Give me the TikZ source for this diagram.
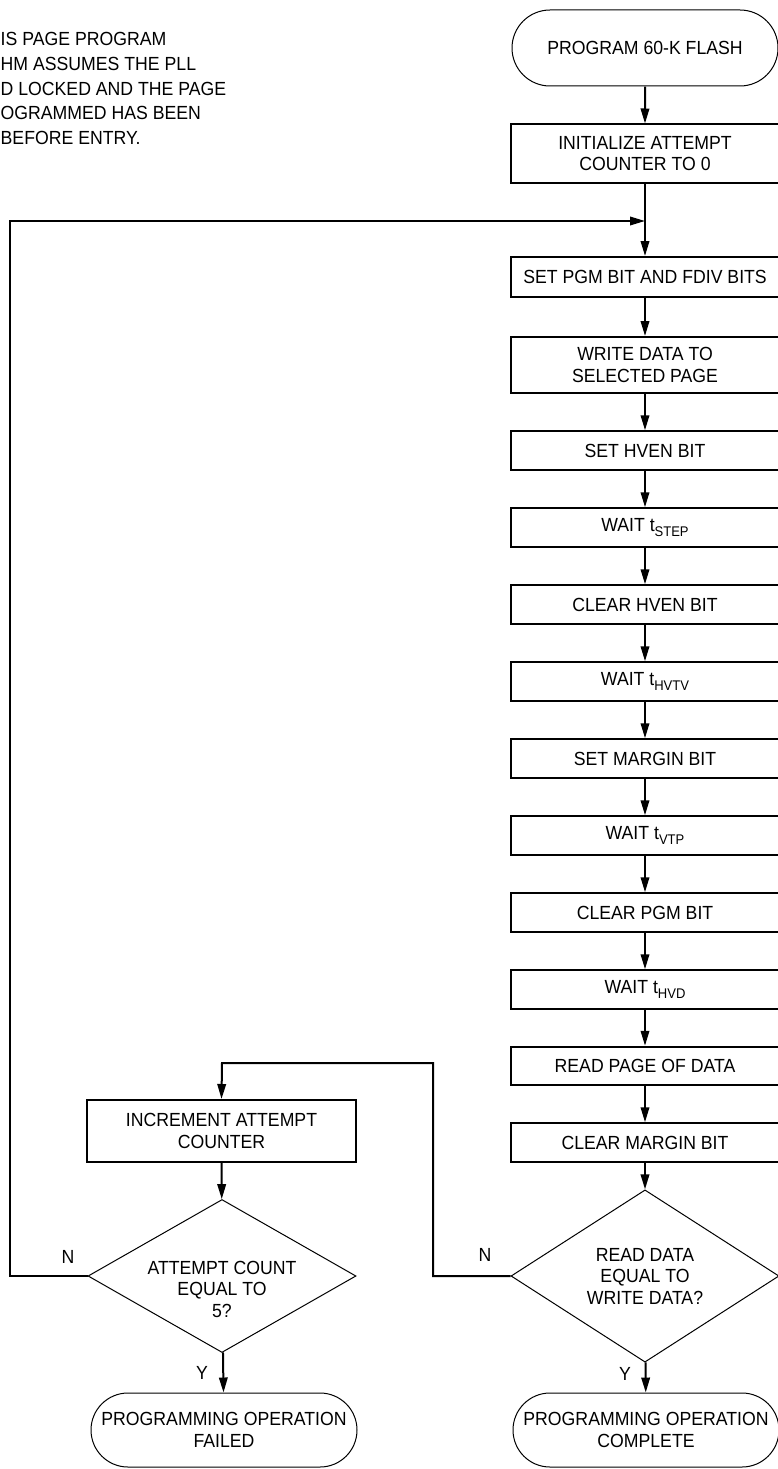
\documentclass[tikz,border=0pt]{standalone}
\usepackage{fontspec}
\setmainfont{Liberation Sans}[FakeStretch=0.93]
\usetikzlibrary{positioning,shapes.geometric,shapes.misc,arrows.meta}

\newcommand{\tsub}[1]{t\raisebox{-0.45ex}{\fontsize{14}{14}\selectfont #1}}

\begin{document}
\begin{tikzpicture}[
        x=1pt, y=-1pt,
        font=\fontsize{19}{21.5}\selectfont,
        stepbox/.style={rectangle, draw, line width=2pt, minimum width=268pt, minimum height=38.5pt, inner sep=2pt, align=center},
        tallbox/.style={stepbox, minimum height=58pt},
        terminal/.style={rounded rectangle, draw, line width=1pt, minimum width=270pt, minimum height=76pt, inner sep=2pt, align=center},
        decision/.style={diamond, draw, line width=1pt, minimum width=268pt, minimum height=153pt, inner sep=0pt, align=center},
        flow/.style={line width=2pt, -{Triangle[length=15pt,width=8.5pt]}},
        yn/.style={font=\fontsize{19}{19}\selectfont}
    ]
        \clip (0,0) rectangle (778,1469);

        % Note at top left
        \node[anchor=north west, inner sep=0pt, align=left, font=\fontsize{19}{24.6}\selectfont] (note) at (0.5,32.5)
            {IS PAGE PROGRAM\\HM ASSUMES THE PLL\\D LOCKED AND THE PAGE\\OGRAMMED HAS BEEN\\BEFORE ENTRY.};

        % Main column
        \node[terminal] (start) at (645,48) {PROGRAM 60-K FLASH};
        \node[tallbox] (init) at (645,153.5) {INITIALIZE ATTEMPT\\COUNTER TO 0};
        \coordinate (merge) at (645,221);
        \node[stepbox, minimum height=40pt] (pgm) at (645,277) {SET PGM BIT AND FDIV BITS};
        \node[stepbox, minimum height=56pt] (write) at (645,365) {WRITE DATA TO\\SELECTED PAGE};
        \node[stepbox] (hven) at (645,450.5) {SET HVEN BIT};
        \node[stepbox] (tstep) at (645,527.5) {WAIT \tsub{STEP}};
        \node[stepbox] (clrhven) at (645,604.5) {CLEAR HVEN BIT};
        \node[stepbox] (thvtv) at (645,681.5) {WAIT \tsub{HVTV}};
        \node[stepbox] (margin) at (645,758.5) {SET MARGIN BIT};
        \node[stepbox] (tvtp) at (645,835.5) {WAIT \tsub{VTP}};
        \node[stepbox] (clrpgm) at (645,912.5) {CLEAR PGM BIT};
        \node[stepbox] (thvd) at (645,989.5) {WAIT \tsub{HVD}};
        \node[stepbox] (read) at (645,1066) {READ PAGE OF DATA};
        \node[stepbox] (clrmargin) at (645,1142.5) {CLEAR MARGIN BIT};
        \node[decision] (compare) at (645,1276) {READ DATA\\EQUAL TO\\WRITE DATA?};
        \node[terminal, minimum height=74pt] (done) at (646,1430) {PROGRAMMING OPERATION\\COMPLETE};

        % Retry column
        \node[stepbox, minimum width=269pt, minimum height=62pt] (incr) at (221.5,1131) {INCREMENT ATTEMPT\\COUNTER};
        \node[decision, label={[name=counttext, align=center, yshift=-13pt]center:ATTEMPT COUNT\\EQUAL TO\\5?}] (count) at (222,1276) {};
        \node[terminal, minimum height=74pt] (failed) at (224,1430) {PROGRAMMING OPERATION\\FAILED};

        % Corner points of the loops
        \coordinate (nleft) at (10,1276);
        \coordinate (ntop) at (10,221);
        \coordinate (rright) at (433,1276);
        \coordinate (rtop) at (433,1063);
        \coordinate (rturn) at (222,1063);

        % Connections
        \draw[flow] (start) -- (init);
        \draw[flow] (init) -- (pgm);
        \draw[flow] (pgm) -- (write);
        \draw[flow] (write) -- (hven);
        \draw[flow] (hven) -- (tstep);
        \draw[flow] (tstep) -- (clrhven);
        \draw[flow] (clrhven) -- (thvtv);
        \draw[flow] (thvtv) -- (margin);
        \draw[flow] (margin) -- (tvtp);
        \draw[flow] (tvtp) -- (clrpgm);
        \draw[flow] (clrpgm) -- (thvd);
        \draw[flow] (thvd) -- (read);
        \draw[flow] (read) -- (clrmargin);
        \draw[flow] (clrmargin) -- (compare);
        \draw[flow] (compare) -- (done);
        \draw[flow] (incr) -- (count);
        \draw[flow] (count) -- (failed);

        % Loops back
        \draw[flow] (compare.west) -- (rright) -- (rtop) -- (rturn) -- (incr.north);
        \draw[flow] (count.west) -- (nleft) -- (ntop) -- (merge);

        % Branch labels
        \node[yn] (nright) at (485,1255) {N};
        \node[yn] (yright) at (625,1374) {Y};
        \node[yn] (nleftlbl) at (68,1257) {N};
        \node[yn] (yleft) at (202,1373) {Y};

    \end{tikzpicture}
\end{document}
